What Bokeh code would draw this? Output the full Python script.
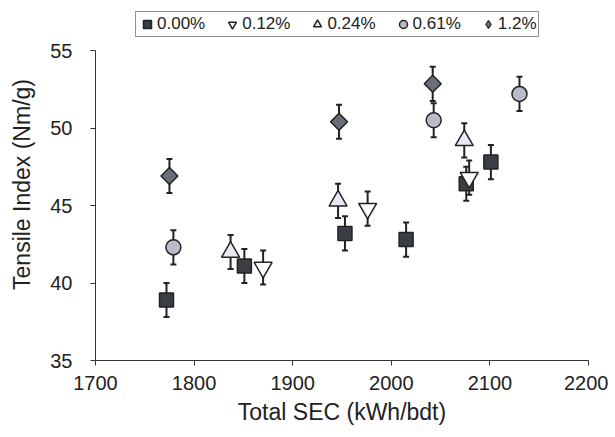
from bokeh.plotting import figure
from bokeh.models import ColumnDataSource, Whisker, TeeHead, Legend, LegendItem, Range1d, FixedTicker
from bokeh.embed import file_html
from bokeh.resources import INLINE

labels = ["0.00%", "0.12%", "0.24%", "0.61%", "1.2%"]
x_ticks = [1700, 1800, 1900, 2000, 2100, 2200]
y_ticks = [35, 40, 45, 50, 55]
x_000 = [1772, 1851, 1953, 2015, 2076, 2101]
y_000 = [38.9, 41.1, 43.2, 42.8, 46.4, 47.8]
e_000 = [1.1, 1.1, 1.1, 1.1, 1.1, 1.1]
x_012 = [1870, 1976, 2079]
y_012 = [41.0, 44.8, 46.8]
e_012 = [1.1, 1.1, 1.1]
x_024 = [1837, 1946, 2074]
y_024 = [42.0, 45.3, 49.2]
e_024 = [1.1, 1.1, 1.1]
x_061 = [1779, 2043, 2130]
y_061 = [42.3, 50.5, 52.2]
e_061 = [1.1, 1.1, 1.1]
x_12 = [1775, 1947, 2042]
y_12 = [46.9, 50.4, 52.85]
e_12 = [1.1, 1.1, 1.1]

FONT = "Liberation Sans"
NAN = float("nan")

# frame extends above the data area to host the legend; axis line bounded to 35..55
p = figure(width=608, height=428, output_backend="svg", toolbar_location=None,
           x_range=Range1d(1700, 2200), y_range=Range1d(35, 35 + 352 / 15.5),
           frame_width=493, frame_height=352,
           min_border_left=95, min_border_top=8, min_border_right=20, min_border_bottom=68)
p.outline_line_color = None
p.grid.visible = False
p.background_fill_color = "white"

p.xaxis.ticker = FixedTicker(ticks=x_ticks)
p.yaxis.ticker = FixedTicker(ticks=y_ticks)
p.yaxis.bounds = (y_ticks[0], y_ticks[-1])
for ax in (p.xaxis, p.yaxis):
    ax.major_label_text_font = FONT
    ax.major_label_text_font_size = "20px"
    ax.major_label_text_color = "#222222"
    ax.axis_label_text_font = FONT
    ax.axis_label_text_font_size = "23px"
    ax.axis_label_text_font_style = "normal"
    ax.axis_label_text_color = "#222222"
    ax.axis_line_color = "#333333"
    ax.major_tick_line_color = "#333333"
    ax.major_tick_out = 5
    ax.major_tick_in = 0
    ax.minor_tick_line_color = None
p.xaxis.axis_label = "Total SEC (kWh/bdt)"
p.yaxis.axis_label = "Tensile Index (Nm/g)"
p.xaxis.major_label_standoff = 10
p.xaxis.axis_label_standoff = 6
p.yaxis.major_label_standoff = 18
p.yaxis.axis_label_standoff = 12

series = [
    (x_000, y_000, e_000, "square", "#3b3f45", 14, 0.0, None),
    (x_012, y_012, e_012, "inverted_triangle", "#ffffff", 18, 0.0, None),
    (x_024, y_024, e_024, "triangle", "#e9e7f2", 18, 0.0, None),
    (x_061, y_061, e_061, "circle", "#b9bbc6", 15, 0.0, None),
    (x_12, y_12, e_12, "square", "#6a6e78", 12, 0.785398, "diamond"),
]

items = []
for (xs, ys, es, marker, color, size, ang, leg_marker), lab in zip(series, labels):
    src = ColumnDataSource(data=dict(x=xs, y=ys,
                                     lo=[a - b for a, b in zip(ys, es)],
                                     hi=[a + b for a, b in zip(ys, es)]))
    w = Whisker(base="x", lower="lo", upper="hi", source=src,
                line_color="#222222", line_width=2,
                upper_head=TeeHead(size=6, line_color="#222222", line_width=2),
                lower_head=TeeHead(size=6, line_color="#222222", line_width=2))
    p.add_layout(w)
    r = p.scatter("x", "y", source=src, marker=marker, size=size, angle=ang,
                  fill_color=color, line_color="#222222", line_width=1.5)
    if leg_marker is not None:
        # legend-only glyph (no visible point) so the key shows a diamond
        r = p.scatter(x=[NAN], y=[NAN], marker=leg_marker, size=size,
                      fill_color=color, line_color="#222222", line_width=1.2)
    items.append(LegendItem(label=lab, renderers=[r]))

legend = Legend(items=items, orientation="horizontal", location=(40, 323),
                label_text_font=FONT, label_text_font_size="17px",
                label_text_color="#222222",
                border_line_color="#222222", border_line_width=1,
                glyph_width=20, glyph_height=22, label_standoff=0,
                spacing=17, padding=1, margin=0,
                label_height=17)
p.add_layout(legend, "center")

open("out.html", "w").write(file_html(p, INLINE))
